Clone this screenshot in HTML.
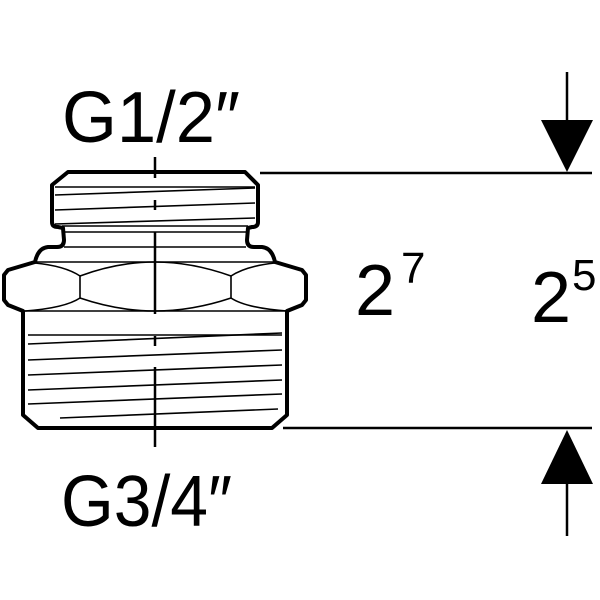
<!DOCTYPE html>
<html><head><meta charset="utf-8"><style>
html,body{margin:0;padding:0;background:#fff;}
svg{display:block;}
text{font-family:"Liberation Sans",sans-serif;fill:#000;}
</style></head><body>
<svg width="600" height="600" viewBox="0 0 600 600" xmlns="http://www.w3.org/2000/svg">
<g fill="none" stroke="#000" stroke-linejoin="round">
<!-- outer outline -->
<path stroke-width="4" d="M68,172 L245,172 L258,185 L258,222 Q258,227 252,227 L248,228 L247,240 Q247,247 254,247 L262,247 Q272,248 275,262 L302,270 L306,275 L306,300 L302,305 L287,311 L287,415 L272,428 L38,428 L23,415 L23,311 L8,305 L4,300 L4,275 L8,270 L35,262 Q38,248 48,247 L57,247 Q64,247 64,240 L63,228 L58,227 Q52,227 52,222 L52,185 Z"/>
<!-- inner lines -->
<g stroke-width="1.6">
<line x1="55" y1="187" x2="255" y2="187"/>
<line x1="55" y1="195" x2="255" y2="188"/>
<line x1="55" y1="210" x2="255" y2="203"/>
<line x1="55" y1="224" x2="255" y2="218"/>
<line x1="62" y1="226" x2="248" y2="226"/>
<line x1="64" y1="232" x2="246" y2="232"/>
<line x1="64" y1="247" x2="246" y2="247"/>
<line x1="35" y1="262" x2="275" y2="262"/>
<line x1="23" y1="311" x2="287" y2="311"/>
<path d="M35,263 Q65,266 80,276 L80,298 Q65,308 25,311"/>
<path d="M80,276 Q118,262 155,262 Q192,262 231,276 L231,298 Q192,311 155,311 Q118,311 80,298"/>
<path d="M231,276 Q246,266 275,263"/>
<path d="M231,298 Q246,308 287,311"/>
<line x1="28" y1="335" x2="282" y2="335"/>
<line x1="28" y1="344" x2="282" y2="333"/>
<line x1="28" y1="360" x2="282" y2="350"/>
<line x1="28" y1="375" x2="282" y2="365"/>
<line x1="28" y1="390" x2="282" y2="380"/>
<line x1="28" y1="404" x2="282" y2="394"/>
<line x1="60" y1="418" x2="278" y2="409"/>
</g>
<!-- centerline -->
<g stroke-width="2.5">
<line x1="155" y1="157" x2="155" y2="178"/>
<line x1="155" y1="200" x2="155" y2="210"/>
<line x1="155" y1="232" x2="155" y2="314"/>
<line x1="155" y1="336" x2="155" y2="346"/>
<line x1="155" y1="367" x2="155" y2="447"/>
</g>
<!-- dimension lines -->
<g stroke-width="2.5">
<line x1="260" y1="173" x2="592" y2="173"/>
<line x1="283" y1="428" x2="592" y2="428"/>
<line x1="567" y1="72" x2="567" y2="122"/>
<line x1="567" y1="482" x2="567" y2="536"/>
</g>
</g>
<polygon points="541,120 593,120 567,172" fill="#000"/>
<polygon points="541,484 593,484 567,430" fill="#000"/>
<text x="62" y="142" font-size="72" textLength="178" lengthAdjust="spacingAndGlyphs">G1/2″</text>
<text x="61" y="526" font-size="72" textLength="171" lengthAdjust="spacingAndGlyphs">G3/4″</text>
<text x="355" y="315" font-size="72">2</text>
<text x="401" y="283" font-size="44">7</text>
<text x="531" y="322" font-size="72">2</text>
<text x="572" y="290" font-size="44">5</text>
</svg>
</body></html>
